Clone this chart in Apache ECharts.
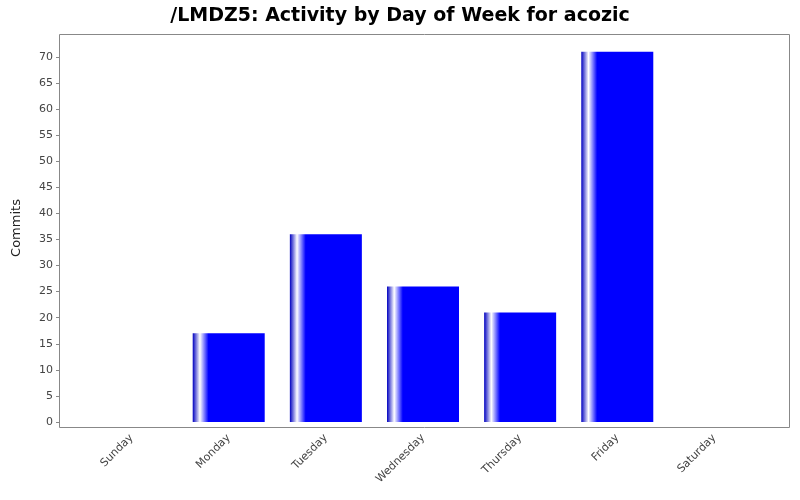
<!DOCTYPE html>
<html><head><meta charset="utf-8">
<script src="https://cdn.jsdelivr.net/npm/echarts@6/dist/echarts.min.js"></script>
<style>html,body{margin:0;padding:0;background:#fff}#c{width:800px;height:500px}</style>
</head><body><div id="c"></div>
<script>
const categories=["Sunday","Monday","Tuesday","Wednesday","Thursday","Friday","Saturday"];
const commits=[0,17,36,26,21,71,0];
const chart=echarts.init(document.getElementById('c'));
chart.setOption({
  backgroundColor:'#fff',animation:false,
  title:{text:'/LMDZ5: Activity by Day of Week for acozic',left:'center',top:2,
    textStyle:{fontFamily:'DejaVu Sans',fontSize:19,fontWeight:'bold',color:'#000'}},
  grid:{left:83,right:37,top:34,bottom:78},
  graphic:[{type:'rect',shape:{x:59.5,y:34.5,width:730,height:393},
    style:{fill:null,stroke:'#888',lineWidth:1},silent:true}],
  xAxis:{type:'category',data:categories,
    axisLine:{show:false},axisTick:{show:false},
    axisLabel:{rotate:45,margin:14,color:'#444',fontFamily:'DejaVu Sans',fontSize:11}},
  yAxis:{type:'value',min:0,max:74.4,interval:5,offset:24,
    name:'Commits',nameLocation:'middle',nameGap:36,nameRotate:90,
    nameTextStyle:{fontFamily:'DejaVu Sans',fontSize:13,color:'#222'},
    axisLine:{show:false},axisTick:{show:true,length:3,lineStyle:{color:'#888'}},
    splitLine:{show:false},
    axisLabel:{showMaxLabel:false,color:'#444',fontFamily:'DejaVu Sans',fontSize:11,margin:6}},
  series:[{type:'bar',data:commits,barWidth:72,
    itemStyle:{color:new echarts.graphic.LinearGradient(0,0,1,0,[
      {offset:0,color:'#0000c0'},{offset:0.1,color:'#ffffff'},
      {offset:0.22,color:'#0000ff'},{offset:1,color:'#0000ff'}])}}]
});
</script></body></html>
